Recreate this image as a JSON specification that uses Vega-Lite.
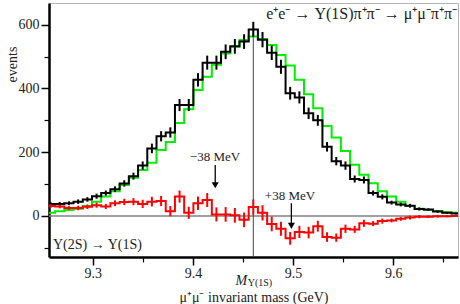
{
  "$schema": "https://vega.github.io/schema/vega-lite/v6.json",
  "width": 409,
  "height": 254,
  "autosize": "none",
  "padding": {"left": 49, "top": 3, "right": 2, "bottom": 47},
  "background": "white",
  "config": {
    "view": {"stroke": "#b4b4b4", "strokeWidth": 1},
    "font": "Liberation Serif",
    "axis": {"grid": false, "labelFont": "Liberation Serif", "titleFont": "Liberation Serif"},
    "text": {"font": "Liberation Serif"}
  },
  "data": {"values": [
    {"lo": 9.2533, "hi": 9.2625, "c": 9.2579, "b": 38, "g": 10, "r": 31, "e": 6},
    {"lo": 9.2625, "hi": 9.2717, "c": 9.2671, "b": 38, "g": 15, "r": 30, "e": 6},
    {"lo": 9.2717, "hi": 9.2809, "c": 9.2763, "b": 40, "g": 19, "r": 25, "e": 6},
    {"lo": 9.2809, "hi": 9.2901, "c": 9.2855, "b": 45, "g": 23, "r": 25, "e": 7},
    {"lo": 9.2901, "hi": 9.2993, "c": 9.2947, "b": 52, "g": 31, "r": 29, "e": 7},
    {"lo": 9.2993, "hi": 9.3085, "c": 9.3039, "b": 62, "g": 45, "r": 34, "e": 8},
    {"lo": 9.3085, "hi": 9.3177, "c": 9.3131, "b": 72, "g": 61, "r": 30, "e": 8},
    {"lo": 9.3177, "hi": 9.3269, "c": 9.3223, "b": 84, "g": 78, "r": 40, "e": 9},
    {"lo": 9.3269, "hi": 9.3361, "c": 9.3315, "b": 102, "g": 97, "r": 44, "e": 10},
    {"lo": 9.3361, "hi": 9.3453, "c": 9.3407, "b": 125, "g": 120, "r": 45, "e": 11},
    {"lo": 9.3453, "hi": 9.3545, "c": 9.3499, "b": 158, "g": 144, "r": 38, "e": 13},
    {"lo": 9.3545, "hi": 9.3637, "c": 9.3591, "b": 212, "g": 167, "r": 45, "e": 15},
    {"lo": 9.3637, "hi": 9.3729, "c": 9.3683, "b": 250, "g": 207, "r": 47, "e": 16},
    {"lo": 9.3729, "hi": 9.3821, "c": 9.3775, "b": 262, "g": 232, "r": 15, "e": 16},
    {"lo": 9.3821, "hi": 9.3913, "c": 9.3867, "b": 348, "g": 292, "r": 61, "e": 19},
    {"lo": 9.3913, "hi": 9.4005, "c": 9.3959, "b": 348, "g": 335, "r": 10, "e": 19},
    {"lo": 9.4005, "hi": 9.4097, "c": 9.4051, "b": 427, "g": 395, "r": 40, "e": 21},
    {"lo": 9.4097, "hi": 9.4189, "c": 9.4143, "b": 481, "g": 437, "r": 50, "e": 22},
    {"lo": 9.4189, "hi": 9.4281, "c": 9.4235, "b": 481, "g": 474, "r": 5, "e": 22},
    {"lo": 9.4281, "hi": 9.4373, "c": 9.4327, "b": 515, "g": 510, "r": 5, "e": 23},
    {"lo": 9.4373, "hi": 9.4465, "c": 9.4419, "b": 532, "g": 531, "r": 2, "e": 23},
    {"lo": 9.4465, "hi": 9.4557, "c": 9.4511, "b": 547, "g": 552, "r": -12, "e": 23},
    {"lo": 9.4557, "hi": 9.4649, "c": 9.4603, "b": 585, "g": 563, "r": 28, "e": 24},
    {"lo": 9.4649, "hi": 9.4741, "c": 9.4695, "b": 553, "g": 555, "r": 10, "e": 24},
    {"lo": 9.4741, "hi": 9.4833, "c": 9.4787, "b": 512, "g": 536, "r": -25, "e": 23},
    {"lo": 9.4833, "hi": 9.4925, "c": 9.4879, "b": 468, "g": 505, "r": -40, "e": 22},
    {"lo": 9.4925, "hi": 9.5017, "c": 9.4971, "b": 385, "g": 472, "r": -70, "e": 20},
    {"lo": 9.5017, "hi": 9.5109, "c": 9.5063, "b": 372, "g": 427, "r": -50, "e": 19},
    {"lo": 9.5109, "hi": 9.5201, "c": 9.5155, "b": 322, "g": 382, "r": -52, "e": 18},
    {"lo": 9.5201, "hi": 9.5293, "c": 9.5247, "b": 300, "g": 338, "r": -32, "e": 17},
    {"lo": 9.5293, "hi": 9.5385, "c": 9.5339, "b": 217, "g": 282, "r": -66, "e": 15},
    {"lo": 9.5385, "hi": 9.5477, "c": 9.5431, "b": 172, "g": 246, "r": -68, "e": 13},
    {"lo": 9.5477, "hi": 9.5569, "c": 9.5523, "b": 158, "g": 204, "r": -40, "e": 13},
    {"lo": 9.5569, "hi": 9.5661, "c": 9.5615, "b": 116, "g": 161, "r": -42, "e": 11},
    {"lo": 9.5661, "hi": 9.5753, "c": 9.5707, "b": 113, "g": 129, "r": -23, "e": 11},
    {"lo": 9.5753, "hi": 9.5845, "c": 9.5799, "b": 72, "g": 103, "r": -24, "e": 8},
    {"lo": 9.5845, "hi": 9.5937, "c": 9.5891, "b": 60, "g": 78, "r": -16, "e": 8},
    {"lo": 9.5937, "hi": 9.6029, "c": 9.5983, "b": 42, "g": 61, "r": -14, "e": 6},
    {"lo": 9.6029, "hi": 9.6121, "c": 9.6075, "b": 36, "g": 45, "r": -9, "e": 6},
    {"lo": 9.6121, "hi": 9.6213, "c": 9.6167, "b": 32, "g": 31, "r": -5, "e": 6},
    {"lo": 9.6213, "hi": 9.6305, "c": 9.6259, "b": 22, "g": 23, "r": -2, "e": 5},
    {"lo": 9.6305, "hi": 9.6397, "c": 9.6351, "b": 20, "g": 19, "r": -2, "e": 4},
    {"lo": 9.6397, "hi": 9.6489, "c": 9.6443, "b": 14, "g": 16, "r": -1, "e": 4},
    {"lo": 9.6489, "hi": 9.6581, "c": 9.6535, "b": 10, "g": 12, "r": -1, "e": 3},
    {"lo": 9.6581, "hi": 9.6673, "c": 9.6627, "b": 8, "g": 10, "r": 0, "e": 3}
  ]},
  "layer": [
    {
      "data": {"values": [{"v": 0}]},
      "mark": {"type": "rule", "color": "#808080", "strokeWidth": 1.5},
      "encoding": {
        "y": {"field": "v", "type": "quantitative", "scale": {"domain": [-128.6, 668], "nice": false, "zero": false},
          "axis": {"orient": "left", "values": [-100, 100, 300, 500], "tickSize": 5, "tickWidth": 1.2, "tickColor": "#000", "labels": false, "domain": false, "title": null, "grid": false}}
      }
    },
    {
      "data": {"values": [{"m": 9.4603, "lo": -128.6, "hi": 600}]},
      "mark": {"type": "rule", "color": "#444", "strokeWidth": 1},
      "encoding": {
        "x": {"field": "m", "type": "quantitative", "scale": {"domain": [9.2564, 9.6646], "nice": false, "zero": false},
          "axis": {"orient": "bottom", "values": [9.35, 9.45, 9.55, 9.65], "tickSize": 5, "tickWidth": 1.2, "tickColor": "#000", "labels": false, "domain": false, "title": null, "grid": false}},
        "y": {"field": "lo", "type": "quantitative", "scale": {"domain": [-128.6, 668], "nice": false, "zero": false}, "axis": null},
        "y2": {"field": "hi"}
      }
    },
    {
      "transform": [{"fold": ["lo", "hi"], "as": ["side", "edge"]}],
      "mark": {"type": "line", "color": "#00ee00", "strokeWidth": 2, "clip": true, "strokeJoin": "miter"},
      "encoding": {
        "x": {"field": "edge", "type": "quantitative", "scale": {"domain": [9.2564, 9.6646], "nice": false, "zero": false}, "axis": null},
        "y": {"field": "g", "type": "quantitative", "scale": {"domain": [-128.6, 668], "nice": false, "zero": false}, "axis": null},
        "order": [{"field": "edge", "type": "quantitative"}, {"field": "side", "type": "ordinal"}]
      }
    },
    {
      "transform": [{"fold": ["lo", "hi"], "as": ["side", "edge"]}],
      "mark": {"type": "line", "color": "#000000", "strokeWidth": 2, "clip": true, "strokeJoin": "miter"},
      "encoding": {
        "x": {"field": "edge", "type": "quantitative", "scale": {"domain": [9.2564, 9.6646], "nice": false, "zero": false},
          "axis": {"orient": "bottom", "values": [9.3, 9.4, 9.5, 9.6], "format": ".1f", "tickSize": 8, "tickWidth": 1.5, "tickColor": "#000", "domainColor": "#000", "domainWidth": 2.5, "labelFont": "Liberation Serif", "labelFontSize": 14, "labelColor": "#222", "labelPadding": 1, "title": "μ⁺μ⁻ invariant mass (GeV)", "titleFont": "Liberation Serif", "titleFontSize": 14, "titleFontWeight": "normal", "titleColor": "#222", "titleY": 44, "titleBaseline": "alphabetic", "grid": false}},
        "y": {"field": "b", "type": "quantitative", "scale": {"domain": [-128.6, 668], "nice": false, "zero": false},
          "axis": {"orient": "left", "values": [0, 200, 400, 600], "tickSize": 8, "tickWidth": 1.5, "tickColor": "#000", "domainColor": "#000", "domainWidth": 2.5, "labelFont": "Liberation Serif", "labelFontSize": 14, "labelColor": "#222", "labelPadding": 2, "title": "events", "titleFont": "Liberation Serif", "titleFontSize": 14, "titleFontWeight": "normal", "titleColor": "#222", "titleX": -37, "titleY": 61, "titleAngle": 270, "titleAlign": "center", "titleBaseline": "middle", "grid": false}},
        "order": [{"field": "edge", "type": "quantitative"}, {"field": "side", "type": "ordinal"}]
      }
    },
    {
      "mark": {"type": "errorbar", "color": "#000000", "thickness": 2},
      "encoding": {
        "x": {"field": "c", "type": "quantitative", "scale": {"domain": [9.2564, 9.6646], "nice": false, "zero": false}, "axis": null},
        "y": {"field": "b", "type": "quantitative", "scale": {"domain": [-128.6, 668], "nice": false, "zero": false}, "axis": null},
        "yError": {"field": "e"}
      }
    },
    {
      "transform": [{"fold": ["lo", "hi"], "as": ["side", "edge"]}],
      "mark": {"type": "line", "color": "#ff0000", "strokeWidth": 2, "clip": true, "strokeJoin": "miter"},
      "encoding": {
        "x": {"field": "edge", "type": "quantitative", "scale": {"domain": [9.2564, 9.6646], "nice": false, "zero": false}, "axis": null},
        "y": {"field": "r", "type": "quantitative", "scale": {"domain": [-128.6, 668], "nice": false, "zero": false}, "axis": null},
        "order": [{"field": "edge", "type": "quantitative"}, {"field": "side", "type": "ordinal"}]
      }
    },
    {
      "mark": {"type": "errorbar", "color": "#ff0000", "thickness": 2},
      "encoding": {
        "x": {"field": "c", "type": "quantitative", "scale": {"domain": [9.2564, 9.6646], "nice": false, "zero": false}, "axis": null},
        "y": {"field": "r", "type": "quantitative", "scale": {"domain": [-128.6, 668], "nice": false, "zero": false}, "axis": null},
        "yError": {"field": "e"}
      }
    },
    {
      "data": {"values": [{"x": 9.4223, "y1": 160, "y2": 100}, {"x": 9.4983, "y1": 40, "y2": -27}]},
      "mark": {"type": "rule", "color": "#000", "strokeWidth": 1.3},
      "encoding": {
        "x": {"field": "x", "type": "quantitative", "scale": {"domain": [9.2564, 9.6646], "nice": false, "zero": false}, "axis": null},
        "y": {"field": "y1", "type": "quantitative", "scale": {"domain": [-128.6, 668], "nice": false, "zero": false}, "axis": null},
        "y2": {"field": "y2"}
      }
    },
    {
      "data": {"values": [{"x": 9.4223, "y": 96.6}, {"x": 9.4983, "y": -31.1}]},
      "mark": {"type": "point", "shape": "triangle-down", "filled": true, "size": 50, "color": "#000", "opacity": 1},
      "encoding": {
        "x": {"field": "x", "type": "quantitative", "scale": {"domain": [9.2564, 9.6646], "nice": false, "zero": false}, "axis": null},
        "y": {"field": "y", "type": "quantitative", "scale": {"domain": [-128.6, 668], "nice": false, "zero": false}, "axis": null}
      }
    },
    {
      "data": {"values": [{"x": 9.6636, "y": 618, "t": "e⁺e⁻ → Υ(1S)π⁺π⁻ → μ⁺μ⁻π⁺π⁻"}]},
      "mark": {"type": "text", "align": "right", "baseline": "alphabetic", "fontSize": 16, "font": "Liberation Serif", "color": "#222"},
      "encoding": {
        "x": {"field": "x", "type": "quantitative", "scale": {"domain": [9.2564, 9.6646], "nice": false, "zero": false}, "axis": null},
        "y": {"field": "y", "type": "quantitative", "scale": {"domain": [-128.6, 668], "nice": false, "zero": false}, "axis": null},
        "text": {"field": "t"}
      }
    },
    {
      "data": {"values": [{"x": 9.2604, "y": -105, "t": "Υ(2S) → Υ(1S)"}]},
      "mark": {"type": "text", "align": "left", "baseline": "alphabetic", "fontSize": 14, "font": "Liberation Serif", "color": "#222"},
      "encoding": {
        "x": {"field": "x", "type": "quantitative", "scale": {"domain": [9.2564, 9.6646], "nice": false, "zero": false}, "axis": null},
        "y": {"field": "y", "type": "quantitative", "scale": {"domain": [-128.6, 668], "nice": false, "zero": false}, "axis": null},
        "text": {"field": "t"}
      }
    },
    {
      "data": {"values": [{"x": 9.4221, "y": 174, "t": "−38 MeV"}, {"x": 9.4969, "y": 50, "t": "+38 MeV"}]},
      "mark": {"type": "text", "align": "center", "baseline": "alphabetic", "fontSize": 13, "font": "Liberation Serif", "color": "#222"},
      "encoding": {
        "x": {"field": "x", "type": "quantitative", "scale": {"domain": [9.2564, 9.6646], "nice": false, "zero": false}, "axis": null},
        "y": {"field": "y", "type": "quantitative", "scale": {"domain": [-128.6, 668], "nice": false, "zero": false}, "axis": null},
        "text": {"field": "t"}
      }
    },
    {
      "data": {"values": [{"x": 9.4543, "y": -216, "t": "M"}]},
      "mark": {"type": "text", "align": "right", "baseline": "alphabetic", "fontSize": 14, "fontStyle": "italic", "font": "Liberation Serif", "color": "#222", "clip": false},
      "encoding": {
        "x": {"field": "x", "type": "quantitative", "scale": {"domain": [9.2564, 9.6646], "nice": false, "zero": false}, "axis": null},
        "y": {"field": "y", "type": "quantitative", "scale": {"domain": [-128.6, 668], "nice": false, "zero": false}, "axis": null},
        "text": {"field": "t"}
      }
    },
    {
      "data": {"values": [{"x": 9.4547, "y": -221, "t": "Υ(1S)"}]},
      "mark": {"type": "text", "align": "left", "baseline": "alphabetic", "fontSize": 10, "font": "Liberation Serif", "color": "#222", "clip": false},
      "encoding": {
        "x": {"field": "x", "type": "quantitative", "scale": {"domain": [9.2564, 9.6646], "nice": false, "zero": false}, "axis": null},
        "y": {"field": "y", "type": "quantitative", "scale": {"domain": [-128.6, 668], "nice": false, "zero": false}, "axis": null},
        "text": {"field": "t"}
      }
    }
  ],
  "resolve": {"axis": {"x": "independent", "y": "independent"}}
}
